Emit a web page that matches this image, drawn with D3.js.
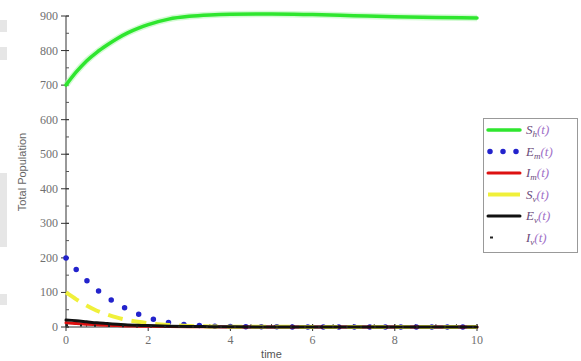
<!DOCTYPE html>
<html>
<head>
<meta charset="utf-8">
<script src="https://cdn.jsdelivr.net/npm/d3@7"></script>
<style>
  body { margin: 0; background: #fff; }
  svg { display: block; }
</style>
</head>
<body>
<div id="chart"></div>
<script>
// time samples and population series
const times = [0, 0.25, 0.5, 0.75, 1, 1.25, 1.5, 1.75, 2, 2.5, 3, 3.5, 4, 5, 6, 7, 8, 9, 10];
const Sh = [700, 738, 770, 795, 816, 835, 851, 864, 875, 891, 899, 903, 905, 906, 904, 901, 898, 896, 894];
const Em = [200, 166, 135, 108, 86, 67, 51, 38, 27, 13, 6, 3, 1.5, 0.5, 0.2, 0, 0, 0, 0];
const Im = [12, 10, 8, 6.5, 5, 4, 3, 2.5, 2, 1.2, 0.7, 0.4, 0.2, 0, 0, 0, 0, 0, 0];
const Sv = [100, 80, 62, 47, 36, 27, 20, 15, 11, 6, 3, 1.5, 1, 0.5, 0.3, 0.2, 0.1, 0, 0];
const Ev = [20, 18, 15, 12, 10, 8, 6, 5, 4, 2.5, 1.5, 1, 0.5, 0.2, 0, 0, 0, 0, 0];
const Iv = [5, 4.5, 4, 3.5, 3, 2.5, 2, 1.6, 1.3, 0.8, 0.5, 0.3, 0.2, 0, 0, 0, 0, 0, 0];

const yTicks = [0, 100, 200, 300, 400, 500, 600, 700, 800, 900];
const xTicks = [0, 2, 4, 6, 8, 10];

const seriesNames = [["S", "h"], ["E", "m"], ["I", "m"], ["S", "v"], ["E", "v"], ["I", "v"]];
const seriesData = [Sh, Em, Im, Sv, Ev, Iv];

const width = 581, height = 361;
const margin = { left: 66, right: 104, top: 16, bottom: 34 };

const svg = d3.select("#chart").append("svg")
  .attr("width", width)
  .attr("height", height);

// faint grey bands at the left edge of the screenshot
[[20, 12], [47, 13], [173, 74], [294, 11]].forEach(b => {
  svg.append("rect").attr("x", 0).attr("y", b[0]).attr("width", 7).attr("height", b[1]).attr("fill", "#e6e6e6");
});

const x = d3.scaleLinear().domain([0, 10]).range([margin.left, width - margin.right]);
const y = d3.scaleLinear().domain([0, 900]).range([height - margin.bottom, margin.top]);

// axes
const yAxis = svg.append("g").attr("transform", "translate(" + margin.left + ",0)");
yAxis.append("line").attr("y1", y(0)).attr("y2", y(900)).attr("stroke", "#333").attr("stroke-width", 1);
yAxis.selectAll(".minor").data(d3.range(0, 901, 50)).enter().append("line")
  .attr("x1", 0).attr("x2", 3).attr("y1", d => y(d)).attr("y2", d => y(d))
  .attr("stroke", "#555");
yAxis.selectAll(".major").data(yTicks).enter().append("line")
  .attr("x1", -5).attr("x2", 3).attr("y1", d => y(d)).attr("y2", d => y(d))
  .attr("stroke", "#333");
yAxis.selectAll("text").data(yTicks).enter().append("text")
  .attr("x", -8).attr("y", d => y(d) + 4)
  .attr("text-anchor", "end")
  .attr("font-family", "Liberation Serif")
  .attr("font-size", 12)
  .attr("fill", "#707070")
  .text(d => d);

const xAxis = svg.append("g").attr("transform", "translate(0," + y(0) + ")");
xAxis.append("line").attr("x1", x(0)).attr("x2", x(10)).attr("stroke", "#333");
xAxis.selectAll(".minor").data(d3.range(0, 10.01, 0.5)).enter().append("line")
  .attr("x1", d => x(d)).attr("x2", d => x(d)).attr("y1", 0).attr("y2", -3)
  .attr("stroke", "#555");
xAxis.selectAll(".major").data(xTicks).enter().append("line")
  .attr("x1", d => x(d)).attr("x2", d => x(d)).attr("y1", -3).attr("y2", 4)
  .attr("stroke", "#333");
xAxis.selectAll("text").data(xTicks).enter().append("text")
  .attr("x", d => x(d)).attr("y", 17)
  .attr("text-anchor", "middle")
  .attr("font-family", "Liberation Serif")
  .attr("font-size", 12)
  .attr("fill", "#707070")
  .text(d => d);

svg.append("text")
  .attr("x", (x(0) + x(10)) / 2).attr("y", 358)
  .attr("text-anchor", "middle")
  .attr("font-family", "Liberation Sans")
  .attr("font-size", 11)
  .attr("fill", "#555")
  .text("time");

svg.append("text")
  .attr("transform", "translate(26," + 172 + ")rotate(-90)")
  .attr("text-anchor", "middle")
  .attr("font-family", "Liberation Sans")
  .attr("font-size", 11)
  .attr("fill", "#666")
  .text("Total Population");

// line styles
const styles = [
  { color: "#2ee62e", width: 3.5, dash: null, cap: "round" },
  { color: "#2323cc", width: 5.5, dash: "0,15.5", cap: "round" },
  { color: "#dd1111", width: 3, dash: null, cap: "round" },
  { color: "#f0f03a", width: 4, dash: "15,9", cap: "butt" },
  { color: "#111111", width: 3, dash: null, cap: "round" },
  { color: "#222222", width: 2, dash: "2,12", cap: "butt" }
];

const line = d3.line()
  .x((d, i) => x(times[i]))
  .y(d => y(d))
  .curve(d3.curveMonotoneX);

// green halo
svg.append("path").datum(Sh)
  .attr("d", line).attr("fill", "none")
  .attr("stroke", "#b5f7b5").attr("stroke-width", 6.5).attr("opacity", 0.6);

seriesData.forEach((s, i) => {
  const st = styles[i];
  svg.append("path").datum(s)
    .attr("d", line)
    .attr("fill", "none")
    .attr("stroke", st.color)
    .attr("stroke-width", st.width)
    .attr("stroke-linecap", st.cap)
    .attr("stroke-dasharray", st.dash);
});

// legend
const lg = svg.append("g");
lg.append("rect")
  .attr("x", 483.5).attr("y", 118.5).attr("width", 94).attr("height", 134)
  .attr("fill", "#fff").attr("stroke", "#999");

seriesNames.forEach((n, i) => {
  const st = styles[i];
  const yy = 130 + i * 21.5;
  if (i === 5) {
    lg.append("line").attr("x1", 490).attr("x2", 493).attr("y1", yy).attr("y2", yy)
      .attr("stroke", st.color).attr("stroke-width", 2);
  } else {
    lg.append("line")
      .attr("x1", i === 1 ? 490 : 488).attr("x2", 520).attr("y1", yy).attr("y2", yy)
      .attr("stroke", st.color)
      .attr("stroke-width", st.width)
      .attr("stroke-linecap", st.cap)
      .attr("stroke-dasharray", i === 3 ? null : (i === 1 ? "0,13" : st.dash));
  }
  const t = lg.append("text")
    .attr("x", 526).attr("y", yy + 4)
    .attr("font-family", "Liberation Serif")
    .attr("font-style", "italic")
    .attr("font-size", 13)
    .attr("fill", "#6a4a7a");
  t.append("tspan").text(n[0]);
  t.append("tspan").attr("dy", 3).attr("font-size", 9).text(n[1]);
  t.append("tspan").attr("dy", -3).attr("fill", "#a070c8").text("(t)");
});
</script>
</body>
</html>
